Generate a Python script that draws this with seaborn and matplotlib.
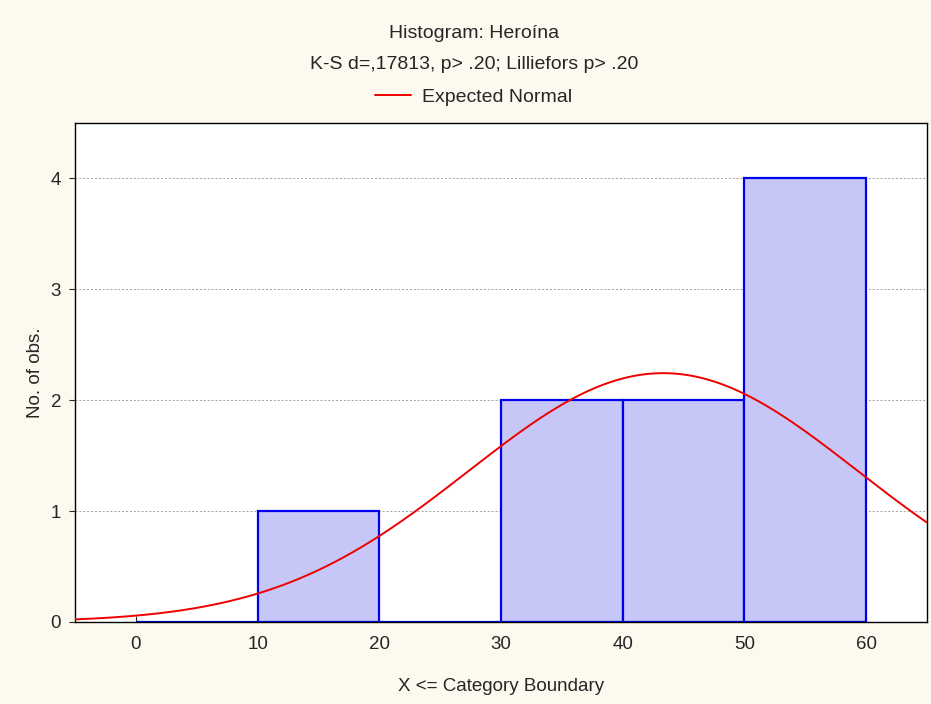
import numpy as np
import pandas as pd
import matplotlib.pyplot as plt
import seaborn as sns

# histogram bins (upper category boundaries) and counts
bin_edges = [0, 10, 20, 30, 40, 50, 60]
bin_counts = [0, 1, 0, 2, 2, 4]

# expected normal parameters (n, mean, sd)
n_obs = 9
mean_val = 43.33
sd_val = 16.0
bin_width = 10

y_ticks = [0, 1, 2, 3, 4]
x_ticks = [0, 10, 20, 30, 40, 50, 60]

sns.set_style("white")
plt.rcParams['font.family'] = ['Liberation Sans', 'DejaVu Sans']

fig = plt.figure(figsize=(9.31, 7.04), dpi=100, facecolor='#fdf9ee')
ax = fig.add_axes([0.0806, 0.1165, 0.915, 0.7088])
ax.set_facecolor('white')

df = pd.DataFrame({"x": [e + 5 for e in bin_edges[:-1]], "count": bin_counts})
sns.histplot(data=df, x="x", weights="count", bins=bin_edges, ax=ax,
             color='#c6c6f7', edgecolor='#0000ee', linewidth=1.6, alpha=1,
             zorder=2)

# expected normal curve
xs = np.linspace(-5, 65, 300)
ys = n_obs * bin_width / (sd_val * np.sqrt(2 * np.pi)) * np.exp(-0.5 * ((xs - mean_val) / sd_val) ** 2)
sns.lineplot(x=xs, y=ys, color='#ee0000', linewidth=1.4, ax=ax, zorder=3,
             label="Expected Normal")

ax.set_xlim(-5, 65)
ax.set_ylim(0, 4.5)
ax.set_xticks(x_ticks)
ax.set_yticks(y_ticks)
ax.yaxis.grid(True, linestyle=(0, (2, 2)), color='#a0a0a0', linewidth=0.7)
ax.set_axisbelow(True)
for s in ax.spines.values():
    s.set_color('black')
    s.set_linewidth(1.0)
ax.tick_params(axis='x', direction='in', length=4, labelsize=13.5, pad=10, bottom=True)
ax.tick_params(axis='y', direction='out', length=4, labelsize=13.5, left=True, pad=6)

ax.set_xlabel("X <= Category Boundary", fontsize=13.5, labelpad=18)
ax.set_ylabel("No. of obs.", fontsize=13.5, labelpad=5)

ax.get_legend().remove()
h, l = ax.get_legend_handles_labels()
fig.legend(h, l, loc='center', bbox_to_anchor=(0.509, 0.862), frameon=False,
           fontsize=14, handlelength=1.85, handletextpad=0.55)

fig.text(0.509, 0.953, "Histogram: Heroína", ha='center', va='center', fontsize=14)
fig.text(0.509, 0.908, "K-S d=,17813, p> .20; Lilliefors p> .20", ha='center',
         va='center', fontsize=14)

fig.savefig("out.png", dpi=100, facecolor=fig.get_facecolor())
